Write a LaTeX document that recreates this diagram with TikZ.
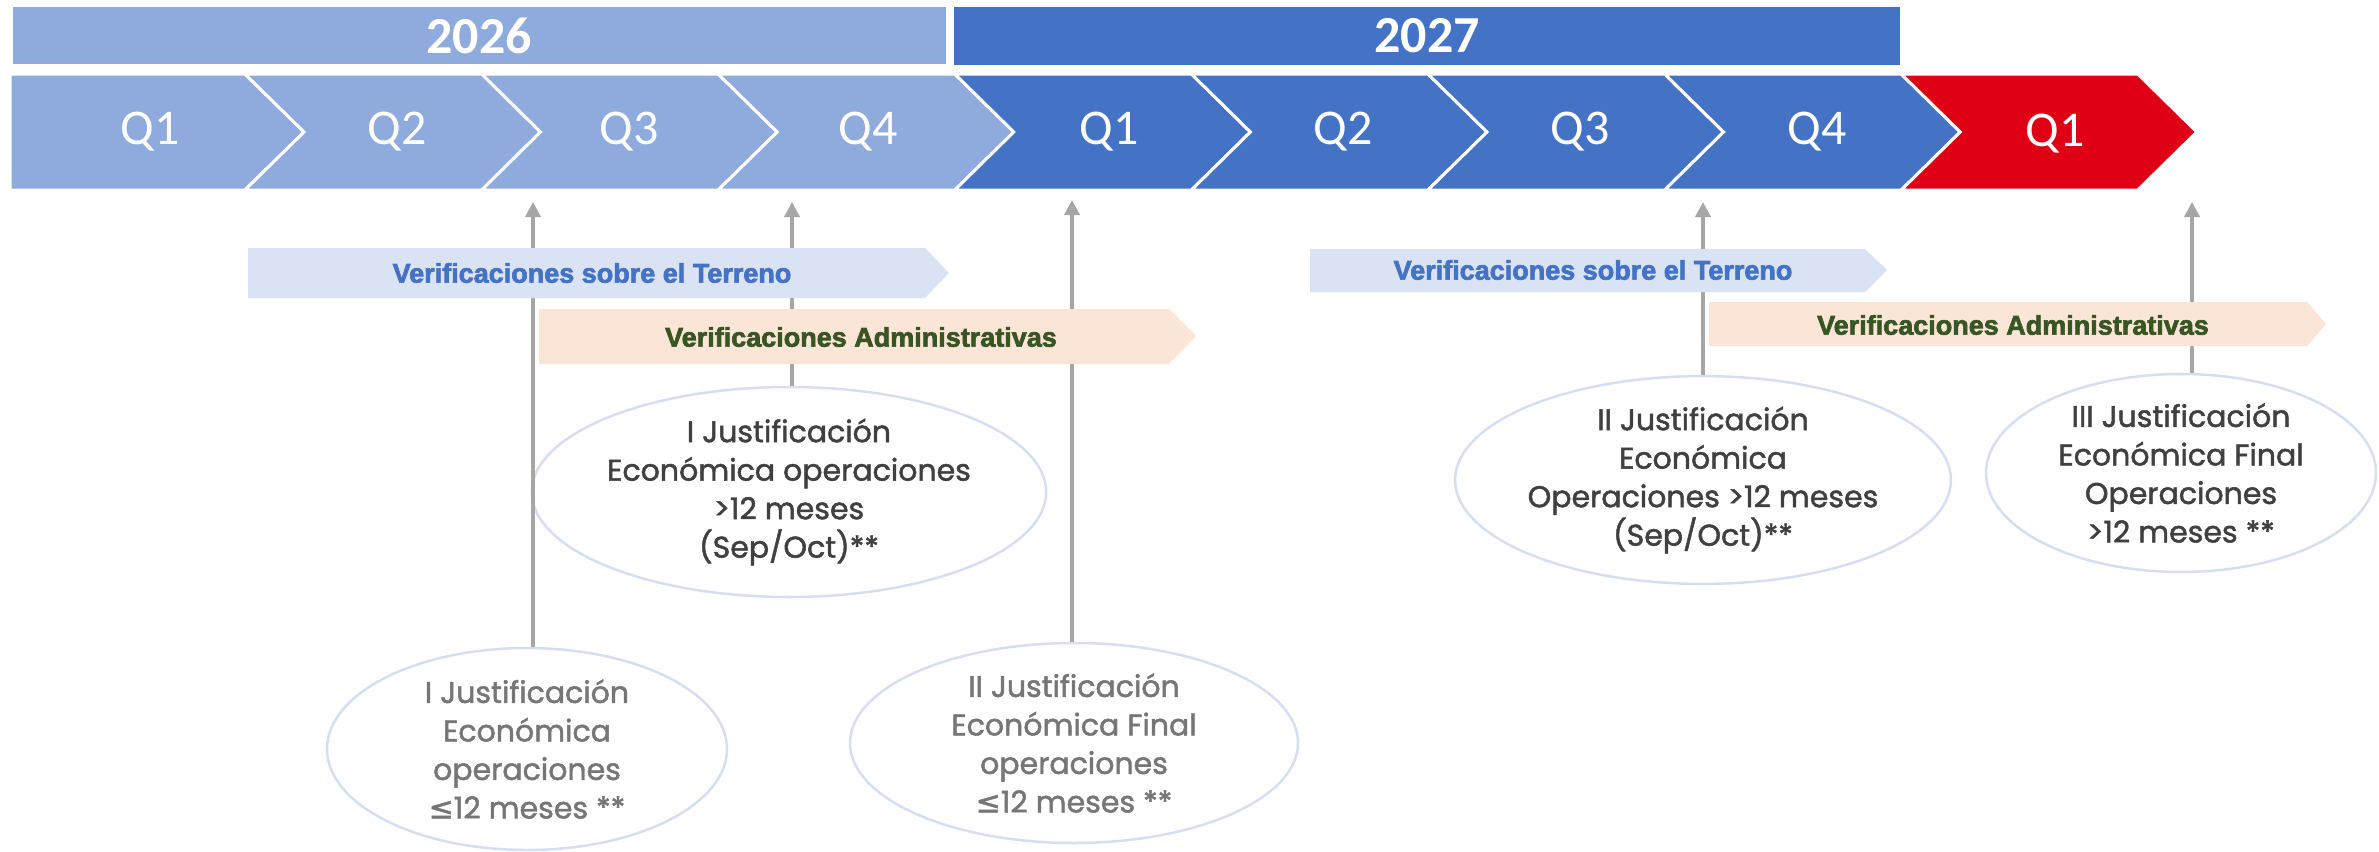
\documentclass[tikz,border=0pt]{standalone}
\usepackage{fontspec}
\setmainfont{Carlito}
\newfontfamily\vfont{Liberation Sans}[BoldFeatures={FakeBold=2.5}]
\newfontfamily\efont{Poppins}[FakeBold=1.6]
\newfontfamily\symfont{DejaVu Sans}[FakeBold=1.6]
\usetikzlibrary{shapes.geometric,arrows.meta}
\definecolor{cA}{HTML}{8FAADC}
\definecolor{cB}{HTML}{4472C4}
\definecolor{cR}{HTML}{E00016}
\definecolor{terr}{HTML}{DAE3F3}
\definecolor{adm}{HTML}{FBE5D6}
\definecolor{admtxt}{HTML}{375623}
\definecolor{ellb}{HTML}{D6DFF2}
\definecolor{arrg}{HTML}{A6A6A6}
\definecolor{dtxt}{HTML}{404040}
\definecolor{ltxt}{HTML}{767676}
\tikzset{
  yearlbl/.style={text=white,font={\bfseries\fontsize{52}{60}\selectfont}},
  qlbl/.style={text=white,font={\fontsize{50}{56}\selectfont}},
  chevfill/.style={draw=white,line width=3pt,line join=miter},
  vlbl/.style={font={\vfont\bfseries\fontsize{27}{32}\selectfont}},
  ellbox/.style={ellipse,draw=ellb,line width=2.5pt,fill=white,inner sep=0pt,align=center,
     font={\efont\fontsize{30}{38.5}\selectfont}},
  darkell/.style={ellbox,text=dtxt},
  lightell/.style={ellbox,text=ltxt},
  uparr/.style={draw=arrg,line width=3.5pt,-{Triangle[width=15pt,length=15pt]}}
}
\newcommand{\lesym}{{\symfont ≤}}
\begin{document}
\begin{tikzpicture}[x=1pt,y=-1pt]
\useasboundingbox (0,0) rectangle (2379,851);
% year bars
\fill[cA] (13,7) rectangle (946,64);
\fill[cB] (954,7) rectangle (1900,65);
\node[yearlbl] (y26) at (479,36) {2026};
\node[yearlbl] (y27) at (1427,36) {2027};
% chevrons
\path[chevfill,fill=cA] (10,74) -- (245,74) -- (304,132) -- (245,190) -- (10,190) -- cycle;
\foreach \i in {1,...,8}{
  \pgfmathsetmacro{\L}{245+236.6*(\i-1)}
  \pgfmathsetmacro{\R}{\L+236.6}
  \ifnum\i<4 \def\cc{cA}\else\ifnum\i<8 \def\cc{cB}\else\def\cc{cR}\fi\fi
  \path[chevfill,fill=\cc] (\L,74) -- (\R,74) -- (\R+59,132) -- (\R,190) -- (\L,190) -- (\L+59,132) -- cycle;
}
\node[qlbl] (qa1) at (150,132) {Q1};
\node[qlbl] (qa2) at (397,132) {Q2};
\node[qlbl] (qa3) at (629,132) {Q3};
\node[qlbl] (qa4) at (868,132) {Q4};
\node[qlbl] (qb1) at (1109,132) {Q1};
\node[qlbl] (qb2) at (1343,132) {Q2};
\node[qlbl] (qb3) at (1580,132) {Q3};
\node[qlbl] (qb4) at (1817,132) {Q4};
\node[qlbl] (qc1) at (2055,134) {Q1};
% ellipses
\node[lightell,minimum width=400pt,minimum height=202pt] (e1) at (527,749)
  {I Justificación\\Económica\\operaciones\\\lesym12 meses **};
\node[darkell,minimum width=416pt,minimum height=210pt] (e2) at (789,492)
  {I Justificación\\Económica operaciones\\>12 meses\\(Sep/Oct)**};
\node[lightell,minimum width=448pt,minimum height=200pt] (e3) at (1074,743)
  {II Justificación\\Económica Final\\operaciones\\\lesym12 meses **};
\node[darkell,minimum width=402pt,minimum height=206pt] (e4) at (1703,480)
  {II Justificación\\Económica\\Operaciones >12 meses\\(Sep/Oct)**};
\node[darkell,minimum width=390pt,minimum height=198pt] (e5) at (2181,473)
  {III Justificación\\Económica Final\\Operaciones\\>12 meses **};
% arrows
\coordinate (t1) at (533,202);
\coordinate (t2) at (792,202);
\coordinate (t3) at (1072,200);
\coordinate (t4) at (1703,202);
\coordinate (t5) at (2192,202);
\draw[uparr] (t1 |- e1.north) -- (t1);
\draw[uparr] (t2 |- e2.north) -- (t2);
\draw[uparr] (t3 |- e3.north) -- (t3);
\draw[uparr] (t4 |- e4.north) -- (t4);
\draw[uparr] (t5 |- e5.north) -- (t5);
% verification bars
\fill[terr] (248,248) -- (925,248) -- (949,273) -- (925,298) -- (248,298) -- cycle;
\fill[adm] (539,309) -- (1169,309) -- (1196,336) -- (1169,364) -- (539,364) -- cycle;
\fill[terr] (1310,249) -- (1865,249) -- (1887,270) -- (1865,292) -- (1310,292) -- cycle;
\fill[adm] (1709,302) -- (2307,302) -- (2326,324) -- (2307,346) -- (1709,346) -- cycle;
\node[vlbl,text=cB] (v1) at (592,273) {Verificaciones sobre el Terreno};
\node[vlbl,text=admtxt] (v2) at (861,337) {Verificaciones Administrativas};
\node[vlbl,text=cB] (v3) at (1593,270) {Verificaciones sobre el Terreno};
\node[vlbl,text=admtxt] (v4) at (2013,325) {Verificaciones Administrativas};
\end{tikzpicture}
\end{document}
